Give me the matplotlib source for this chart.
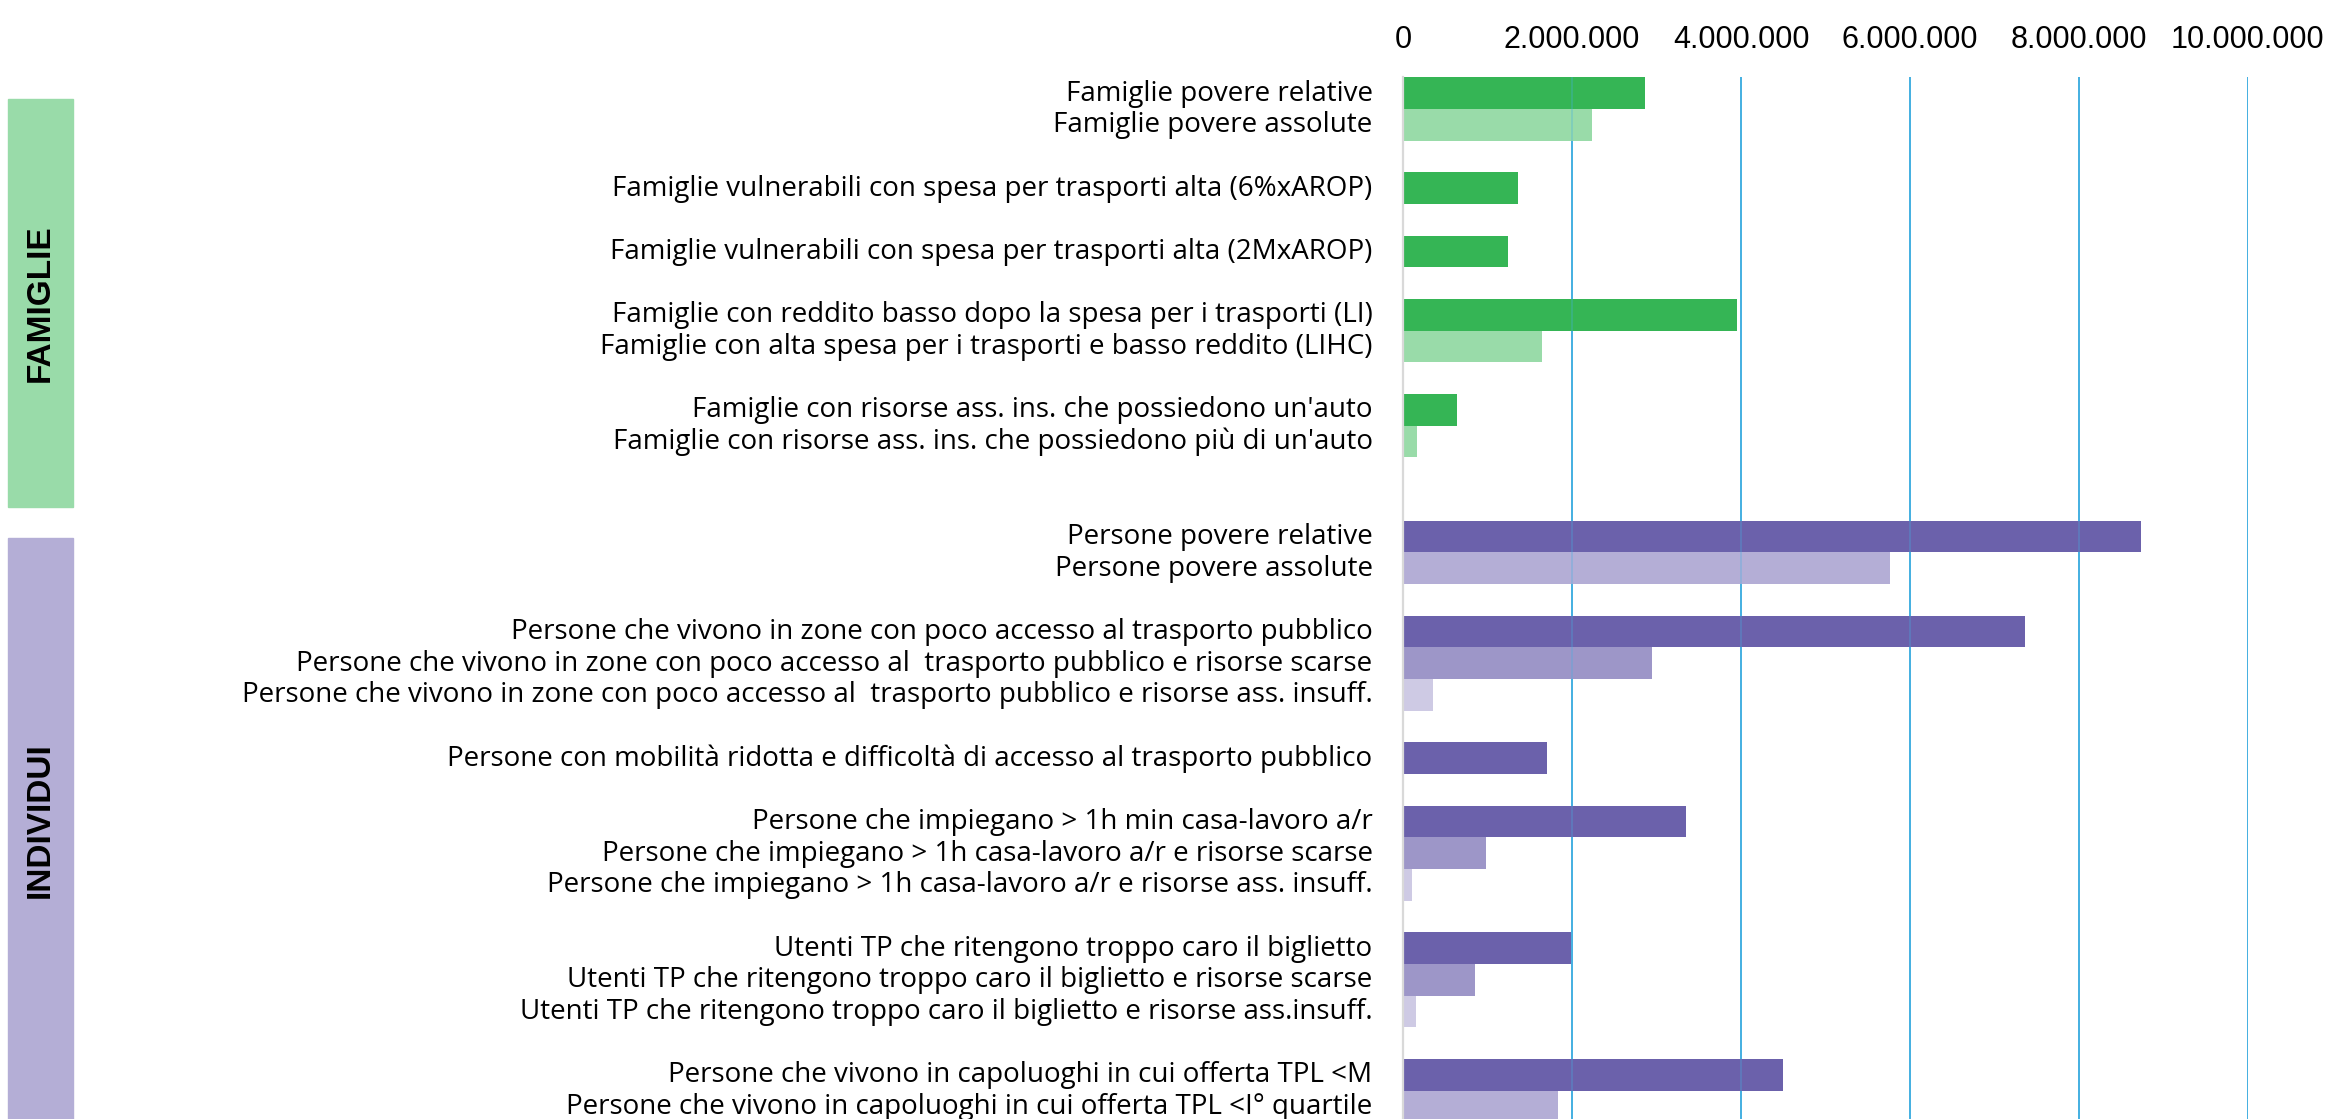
import matplotlib
matplotlib.use("Agg")
import matplotlib.pyplot as plt
from matplotlib.patches import Rectangle
from matplotlib.ticker import FuncFormatter
from matplotlib.transforms import ScaledTranslation

# Rows from top to bottom; empty strings are the spacer rows between groups
labels = [
    "Famiglie povere relative",
    "Famiglie povere assolute",
    "",
    "Famiglie vulnerabili con spesa per trasporti alta (6%xAROP)",
    "",
    "Famiglie vulnerabili con spesa per trasporti alta (2MxAROP)",
    "",
    "Famiglie con reddito basso dopo la spesa per i trasporti (LI)",
    "Famiglie con alta spesa per i trasporti e basso reddito (LIHC)",
    "",
    "Famiglie con risorse ass. ins. che possiedono un'auto",
    "Famiglie con risorse ass. ins. che possiedono più di un'auto",
    "",
    "",
    "Persone povere relative",
    "Persone povere assolute",
    "",
    "Persone che vivono in zone con poco accesso al trasporto pubblico",
    "Persone che vivono in zone con poco accesso al  trasporto pubblico e risorse scarse",
    "Persone che vivono in zone con poco accesso al  trasporto pubblico e risorse ass. insuff.",
    "",
    "Persone con mobilità ridotta e difficoltà di accesso al trasporto pubblico",
    "",
    "Persone che impiegano > 1h min casa-lavoro a/r",
    "Persone che impiegano > 1h casa-lavoro a/r e risorse scarse",
    "Persone che impiegano > 1h casa-lavoro a/r e risorse ass. insuff.",
    "",
    "Utenti TP che ritengono troppo caro il biglietto",
    "Utenti TP che ritengono troppo caro il biglietto e risorse scarse",
    "Utenti TP che ritengono troppo caro il biglietto e risorse ass.insuff.",
    "",
    "Persone che vivono in capoluoghi in cui offerta TPL <M",
    "Persone che vivono in capoluoghi in cui offerta TPL <I° quartile",
]

values = [
    2860000, 2240000, None,
    1365000, None,
    1238000, None,
    3950000, 1647000, None,
    635000, 159000, None, None,
    8730000, 5760000, None,
    7360000, 2950000, 360000, None,
    1700000, None,
    3350000, 985000, 100000, None,
    1990000, 850000, 150000, None,
    4500000, 1830000,
]

# group of each row (F = famiglie, I = individui) and shade level
groups = ["F"] * 14 + ["I"] * 19
shades = [
    0, 1, 0,
    0, 0,
    0, 0,
    0, 1, 0,
    0, 1, 0, 0,
    0, 1, 0,
    0, 2, 3, 0,
    0, 0,
    0, 2, 3, 0,
    0, 2, 3, 0,
    0, 1,
]

xticks = [0, 2000000, 4000000, 6000000, 8000000, 10000000]
group_names = ["FAMIGLIE", "INDIVIDUI"]

colors = {
    "F": ["#35B555", "#99DBA9"],
    "I": ["#6B61AB", "#B4AED6", "#9D96C8", "#CECAE4"],
}

label_font = ["Open Sans", "DejaVu Sans"]
tick_font = ["Liberation Sans", "DejaVu Sans"]

fig = plt.figure(figsize=(23.28, 11.19), dpi=100)
fig.patch.set_facecolor("white")
ax = fig.add_axes([0.6027, 0.0, 0.3629, 0.9309])

grid_col = "#45B0E1"
for t in xticks[1:]:
    ax.axvline(t, color=grid_col, lw=1.4, zorder=0)

for i, v in enumerate(values):
    if v is None:
        continue
    ax.barh(i, v, height=1.0, color=colors[groups[i]][shades[i]], zorder=2)

# gridlines faintly visible through the bars
for t in xticks[1:]:
    ax.axvline(t, color=grid_col, lw=1.2, alpha=0.35, zorder=3)

ax.set_xlim(0, 10000000)
ax.set_ylim(32.39, -0.5)

ax.xaxis.tick_top()
ax.set_xticks(xticks)
ax.xaxis.set_major_formatter(FuncFormatter(lambda x, p: f"{int(x):,}".replace(",", ".")))
ax.tick_params(axis="x", length=0, pad=16, labelsize=22)
for lab in ax.get_xticklabels():
    lab.set_fontfamily(tick_font)

# size the category labels so the longest one spans ~1131 px like the original
renderer = fig.canvas.get_renderer()
longest = max(labels, key=len)
probe = fig.text(0, 0, longest, fontsize=20, fontfamily=label_font)
w = probe.get_window_extent(renderer).width
probe.remove()
label_size = 20 * 1131 / w

ax.set_yticks(range(len(labels)))
ax.set_yticklabels(labels, fontsize=label_size, fontfamily=label_font)
ax.tick_params(axis="y", length=0, pad=22)
# nudge labels up a touch so the last one stays inside the figure
shift = ScaledTranslation(0, 3 / 100, fig.dpi_scale_trans)
for lab in ax.get_yticklabels():
    lab.set_transform(lab.get_transform() + shift)

for s in ["top", "right", "bottom"]:
    ax.spines[s].set_visible(False)
ax.spines["left"].set_color("#D9D9D9")
ax.spines["left"].set_linewidth(1.6)
ax.spines["left"].set_zorder(4)

# side boxes for the two groups (figure pixel coords converted to fractions)
W, H = 2328, 1119
boxes = [(99, 507), (538, 1125)]
text_centres = [303, 820]
box_cols = ["#99DBA9", "#B4AED6"]
for name, (top, bot), yc, c in zip(group_names, boxes, text_centres, box_cols):
    fig.patches.append(Rectangle((8 / W, 1 - bot / H), 65 / W, (bot - top) / H,
                                 transform=fig.transFigure, color=c, zorder=0))
    fig.text(40.5 / W, 1 - yc / H, name, rotation=90, ha="center", va="center",
             fontsize=24, fontweight="bold", fontfamily=tick_font)

fig.savefig("out.png", dpi=100)
